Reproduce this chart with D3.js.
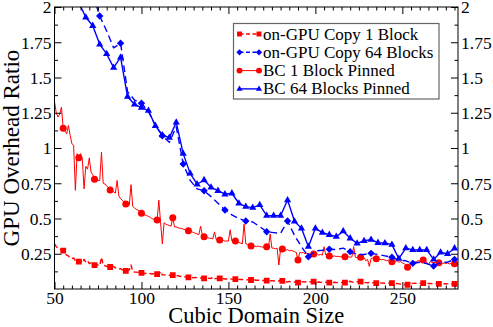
<!DOCTYPE html>
<html><head><meta charset="utf-8">
<script src="https://cdn.jsdelivr.net/npm/d3@7"></script>
<style>body{margin:0;background:#fff}</style>
</head><body>
<svg id="chart" width="493" height="327"></svg>
<script>
// ---------- data ----------
const seriesNames = ["on-GPU Copy 1 Block", "on-GPU Copy 64 Blocks", "BC 1 Block Pinned", "BC 64 Blocks Pinned"];
const xTicks = [50, 100, 150, 200, 250];
const yTicks = [0.25, 0.5, 0.75, 1, 1.25, 1.5, 1.75, 2];
const yTickLabels = ["0.25", "0.5", "0.75", "1", "1.25", "1.5", "1.75", "2"];
const xTitle = "Cubic Domain Size";
const yTitle = "GPU Overhead Ratio";

// red series: one value per domain size, 50 .. 282
const denseStart = 50;
const copy1Block = [
  0.32,0.30,0.29,0.28,0.28,0.272,0.25,0.24,0.235,0.22,
  0.215,0.22,0.20,0.19,0.194,0.20,0.185,0.21,0.19,0.20,
  0.18,0.185,0.175,0.170,0.175,0.17,0.165,0.225,0.17,0.165,
  0.16,0.16,0.156,0.155,0.16,0.15,0.145,0.14,0.145,0.135,
  0.13,0.128,0.13,0.135,0.17,0.125,0.12,0.12,0.118,0.115,
  0.114,0.112,0.11,0.112,0.108,0.11,0.106,0.108,0.105,0.105,
  0.10,0.125,0.10,0.10,0.098,0.10,0.097,0.10,0.099,0.095,
  0.093,0.095,0.09,0.088,0.09,0.086,0.085,0.083,0.085,0.082,
  0.08,0.082,0.079,0.08,0.078,0.077,0.076,0.078,0.075,0.076,
  0.074,0.085,0.073,0.075,0.074,0.076,0.072,0.073,0.071,0.072,
  0.07,0.071,0.07,0.069,0.07,0.069,0.068,0.067,0.068,0.066,
  0.066,0.065,0.066,0.064,0.063,0.064,0.062,0.063,0.061,0.062,
  0.06,0.061,0.059,0.06,0.058,0.059,0.057,0.058,0.056,0.058,
  0.057,0.057,0.055,0.052,0.05,0.054,0.05,0.048,0.05,0.047,
  0.045,0.048,0.05,0.052,0.05,0.053,0.05,0.052,0.05,0.052,
  0.05,0.048,0.05,0.047,0.049,0.046,0.048,0.045,0.045,0.047,
  0.046,0.048,0.046,0.045,0.047,0.046,0.045,0.045,0.047,0.05,
  0.055,0.05,0.048,0.05,0.052,0.05,0.052,0.048,0.047,0.045,
  0.044,0.046,0.043,0.045,0.043,0.042,0.043,0.045,0.042,0.043,
  0.041,0.043,0.042,0.04,0.042,0.04,0.038,0.04,0.036,0.035,
  0.034,0.032,0.033,0.030,0.034,0.038,0.04,0.042,0.04,0.041,
  0.04,0.042,0.042,0.04,0.041,0.039,0.04,0.038,0.037,0.038,
  0.036,0.037,0.038,0.036,0.037,0.038,0.036,0.037,0.035,0.036,
  0.037,0.036,0.037
];
const bc1Block = [
  1.33,1.25,1.22,1.24,1.29,1.14,1.12,1.10,1.16,1.09,
  1.03,1.02,0.70,0.96,0.93,0.96,0.92,0.71,0.87,0.85,
  0.93,0.83,0.81,0.778,0.79,0.77,0.77,0.97,0.75,0.745,
  0.73,0.72,0.702,0.70,0.69,0.68,0.77,0.66,0.64,0.63,
  0.615,0.603,0.60,0.595,0.74,0.585,0.575,0.565,0.56,0.55,
  0.537,0.53,0.525,0.52,0.515,0.51,0.50,0.495,0.49,0.489,
  0.63,0.47,0.32,0.47,0.46,0.455,0.45,0.445,0.506,0.44,
  0.44,0.435,0.43,0.43,0.425,0.42,0.415,0.413,0.41,0.405,
  0.40,0.395,0.39,0.385,0.445,0.38,0.371,0.37,0.365,0.36,
  0.36,0.355,0.405,0.35,0.35,0.348,0.345,0.345,0.34,0.34,
  0.34,0.42,0.34,0.335,0.34,0.335,0.33,0.325,0.32,0.46,
  0.32,0.315,0.31,0.305,0.31,0.305,0.30,0.305,0.30,0.30,
  0.295,0.30,0.30,0.295,0.39,0.29,0.29,0.285,0.29,0.17,
  0.285,0.284,0.28,0.275,0.28,0.27,0.275,0.27,0.265,0.26,
  0.206,0.26,0.255,0.26,0.25,0.255,0.25,0.25,0.245,0.248,
  0.245,0.25,0.24,0.245,0.24,0.30,0.24,0.235,0.234,0.235,
  0.23,0.235,0.23,0.232,0.228,0.23,0.228,0.229,0.225,0.23,
  0.225,0.228,0.30,0.225,0.222,0.225,0.225,0.22,0.222,0.20,
  0.21,0.16,0.215,0.22,0.215,0.215,0.212,0.21,0.208,0.21,
  0.205,0.20,0.205,0.198,0.194,0.20,0.195,0.20,0.19,0.195,
  0.185,0.18,0.17,0.154,0.165,0.18,0.185,0.19,0.195,0.20,
  0.20,0.205,0.206,0.20,0.19,0.17,0.195,0.19,0.185,0.19,
  0.185,0.187,0.185,0.18,0.185,0.18,0.185,0.178,0.18,0.175,
  0.179,0.18,0.178
];
const redMarkerStart = 55, redMarkerStep = 9;

// blue series: one value every 4 sizes, 64 .. 280
const blueStart = 64, blueStep = 4;
const copy64Blocks = [
  2.30,2.18,2.09,1.936,1.83,1.71,1.743,1.40,1.34,1.317,
  1.26,1.16,1.087,1.04,1.15,0.887,0.77,0.71,0.697,0.655,
  0.608,0.56,0.525,0.50,0.482,0.475,0.442,0.406,0.40,0.395,
  0.482,0.38,0.30,0.229,0.27,0.275,0.282,0.28,0.29,0.265,
  0.245,0.245,0.253,0.245,0.235,0.225,0.205,0.20,0.182,0.19,
  0.18,0.163,0.19,0.19,0.21
];
const bc64Blocks = [
  2.03,1.927,1.867,1.735,1.667,1.57,1.643,1.364,1.31,1.286,
  1.265,1.158,1.092,1.073,1.182,0.96,0.82,0.743,0.773,0.721,
  0.697,0.672,0.679,0.608,0.584,0.577,0.596,0.52,0.52,0.52,
  0.631,0.48,0.43,0.30,0.43,0.40,0.385,0.371,0.41,0.36,
  0.324,0.342,0.35,0.328,0.326,0.315,0.215,0.29,0.277,0.277,
  0.277,0.21,0.26,0.25,0.289
];
const diamondMarkerStart = 76, diamondMarkerStep = 12;

// ---------- layout ----------
const W = 493, H = 327;
const L = 54.5, R = 458, T = 7, B = 289;
const x = d3.scaleLinear().domain([50, 282]).range([L, R]);
const y = d3.scaleLinear().domain([0, 2]).range([B, T]);
const RED = "#ff0000", BLUE = "#0000ff";
const FONT = "'Liberation Serif','Times New Roman',serif";

const svg = d3.select("#chart");
svg.append("rect").attr("width", W).attr("height", H).attr("fill", "#fff");

svg.append("defs").append("clipPath").attr("id", "plotclip")
  .append("rect").attr("x", L).attr("y", T).attr("width", R - L).attr("height", B - T);

const toPairs = (start, step, vals) => vals.map((v, i) => [start + i * step, v]);
const copy1Data = toPairs(denseStart, 1, copy1Block);
const bc1Data = toPairs(denseStart, 1, bc1Block);
const copy64Data = toPairs(blueStart, blueStep, copy64Blocks);
const bc64Data = toPairs(blueStart, blueStep, bc64Blocks);

// marker path generators (centered at 0,0)
const markers = {
  square: s => `M${-s},${-s}H${s}V${s}H${-s}Z`,
  diamond: s => `M0,${-s}L${s},0L0,${s}L${-s},0Z`,
  circle: s => `M${-s},0A${s},${s} 0 1,0 ${s},0A${s},${s} 0 1,0 ${-s},0Z`,
  triangle: s => `M0,${-s * 1.15}L${s},${s * 0.6}L${-s},${s * 0.6}Z`
};

const series = [
  {name: seriesNames[0], data: copy1Data, color: RED, dash: "5,3", width: 1.4, marker: "square", ms: 2.9,
   mk: d => (d[0] - redMarkerStart) % redMarkerStep === 0 && d[0] >= redMarkerStart},
  {name: seriesNames[1], data: copy64Data, color: BLUE, dash: "7,4", width: 1.4, marker: "diamond", ms: 3.7,
   mk: d => (d[0] - diamondMarkerStart) % diamondMarkerStep === 0 && d[0] >= diamondMarkerStart},
  {name: seriesNames[2], data: bc1Data, color: RED, dash: null, width: 1, marker: "circle", ms: 3.5,
   mk: d => (d[0] - redMarkerStart) % redMarkerStep === 0 && d[0] >= redMarkerStart},
  {name: seriesNames[3], data: bc64Data, color: BLUE, dash: null, width: 1.4, marker: "triangle", ms: 3.6,
   mk: d => true}
];

const line = d3.line().x(d => x(d[0])).y(d => y(d[1]));
const plot = svg.append("g").attr("clip-path", "url(#plotclip)");
// draw order: red solid, red dashed, blue dashed, blue solid
[2, 0, 1, 3].forEach(k => {
  const s = series[k];
  plot.append("path").datum(s.data).attr("d", line)
    .attr("fill", "none").attr("stroke", s.color).attr("stroke-width", s.width)
    .attr("stroke-dasharray", s.dash).attr("stroke-linejoin", "round");
  plot.selectAll(null).data(s.data.filter(s.mk)).enter().append("path")
    .attr("transform", d => `translate(${x(d[0])},${y(d[1])})`)
    .attr("d", markers[s.marker](s.ms)).attr("fill", s.color);
});

// ---------- axes ----------
const ax = svg.append("g").attr("stroke", "#000").attr("stroke-width", 1);
ax.append("rect").attr("x", L).attr("y", T).attr("width", R - L).attr("height", B - T).attr("fill", "none");

const xMinor = d3.range(55, 282, 5).filter(v => !xTicks.includes(v));
const yMinor = d3.range(0.125, 2, 0.25);
const tickLen = 7, minorLen = 3.5;

// x axes (bottom and top), ticks inward
const xAxisB = d3.axisBottom(x).tickValues(xTicks).tickSize(-tickLen).tickPadding(3).tickFormat(d3.format("d"));
const xAxisT = d3.axisTop(x).tickValues(xTicks).tickSize(-tickLen).tickFormat("");
const gxb = svg.append("g").attr("transform", `translate(0,${B})`).call(xAxisB);
const gxt = svg.append("g").attr("transform", `translate(0,${T})`).call(xAxisT);
svg.append("g").attr("transform", `translate(0,${B})`).call(d3.axisBottom(x).tickValues(xMinor).tickSize(-minorLen).tickFormat(""));
svg.append("g").attr("transform", `translate(0,${T})`).call(d3.axisTop(x).tickValues(xMinor).tickSize(-minorLen).tickFormat(""));

// y axes (left and right), ticks inward, labels both sides
const yAxisL = d3.axisLeft(y).tickValues(yTicks).tickSize(-tickLen).tickPadding(3).tickFormat((d, i) => yTickLabels[i]);
const yAxisR = d3.axisRight(y).tickValues(yTicks).tickSize(-tickLen).tickPadding(3).tickFormat((d, i) => yTickLabels[i]);
const gyl = svg.append("g").attr("transform", `translate(${L},0)`).call(yAxisL);
const gyr = svg.append("g").attr("transform", `translate(${R},0)`).call(yAxisR);
svg.append("g").attr("transform", `translate(${L},0)`).call(d3.axisLeft(y).tickValues(yMinor).tickSize(-minorLen).tickFormat(""));
svg.append("g").attr("transform", `translate(${R},0)`).call(d3.axisRight(y).tickValues(yMinor).tickSize(-minorLen).tickFormat(""));

svg.selectAll(".domain").remove();
svg.selectAll(".tick line").attr("stroke", "#000").attr("stroke-width", 1);
svg.selectAll(".tick text").attr("font-family", FONT).attr("font-size", 17.5).attr("fill", "#000");
gxb.selectAll(".tick text").attr("dy", "0.7em");
gyl.selectAll(".tick text").attr("dy", "0.33em");
gyr.selectAll(".tick text").attr("dy", "0.33em");

// titles
svg.append("text").attr("x", (L + R) / 2).attr("y", 322.5).attr("text-anchor", "middle")
  .attr("font-family", FONT).attr("font-size", 22.5).text(xTitle);
svg.append("text").attr("transform", `translate(19,${(T + B) / 2}) rotate(-90)`).attr("text-anchor", "middle")
  .attr("font-family", FONT).attr("font-size", 23).text(yTitle);

// ---------- legend ----------
const lg = svg.append("g");
lg.append("rect").attr("x", 233.5).attr("y", 23.5).attr("width", 205.5).attr("height", 75.5)
  .attr("fill", "#fff").attr("stroke", "#666").attr("stroke-width", 1.2);
series.forEach((s, i) => {
  const by = 39.5 + i * 18.3, cy = by - 5.5;
  lg.append("line").attr("x1", 239.5).attr("x2", 259).attr("y1", cy).attr("y2", cy)
    .attr("stroke", s.color).attr("stroke-width", s.width).attr("stroke-dasharray", s.dash ? "4,2.5" : null);
  [239.5, 259].forEach(mx => lg.append("path").attr("transform", `translate(${mx},${cy})`)
    .attr("d", markers[s.marker](s.ms * 0.85)).attr("fill", s.color));
  lg.append("text").attr("x", 263).attr("y", by).attr("font-family", FONT).attr("font-size", 17).text(s.name);
});
</script>
</body></html>
